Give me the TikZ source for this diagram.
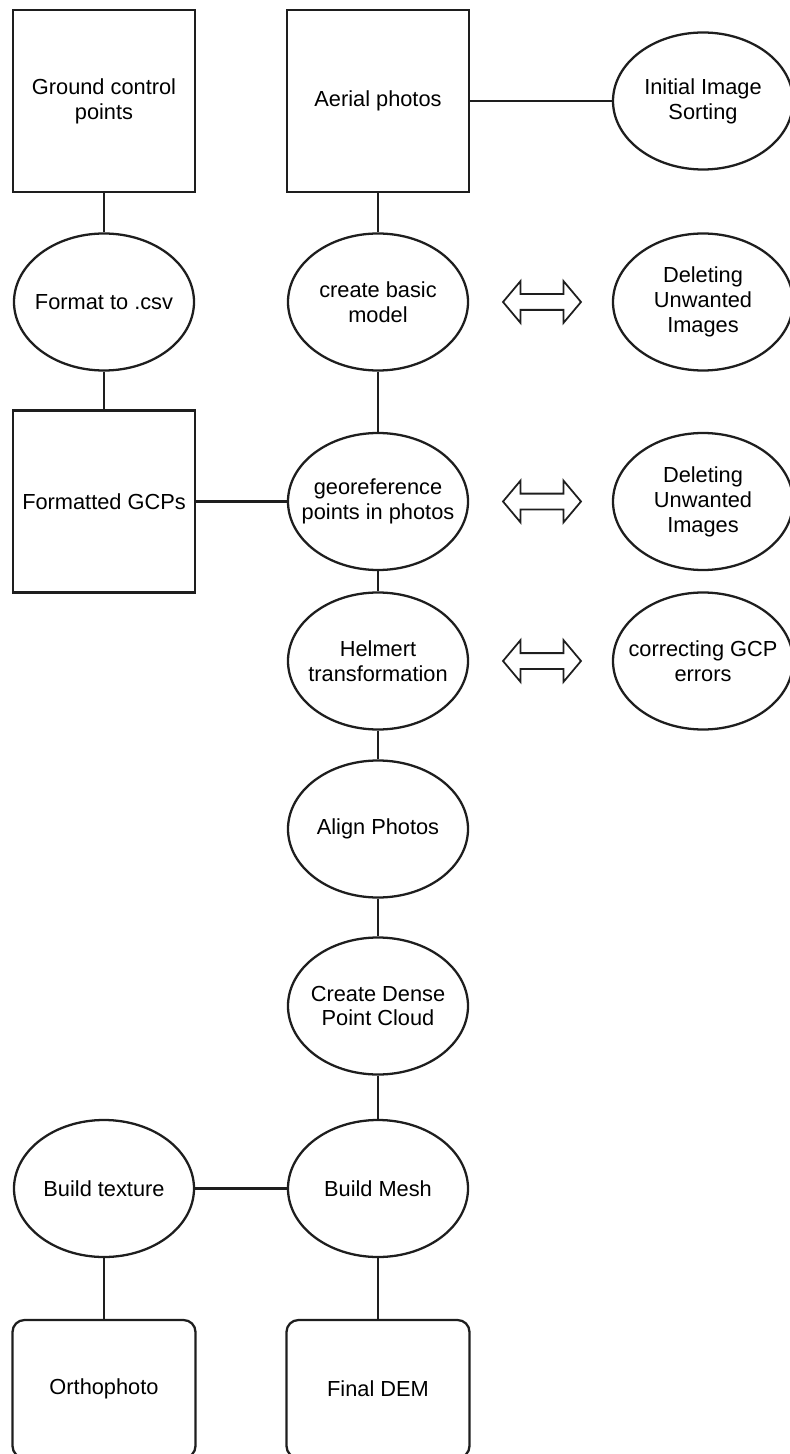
\documentclass[tikz,border=0pt]{standalone}
\usepackage{fontspec}
\setmainfont{Liberation Sans}
\usepackage{xcolor}
\usepackage{tikz}
\usetikzlibrary{shapes.geometric, shapes.arrows, positioning}
\definecolor{lineGrey}{RGB}{30,30,30}

\begin{document}
\begin{tikzpicture}[font=\fontsize{12.4}{14.2}\selectfont, line width=1.3pt,
  box/.style={draw=lineGrey, minimum width=3.64cm, minimum height=3.64cm, align=center, inner sep=0pt},
  endbox/.style={draw=lineGrey, rounded corners=0.24cm, minimum width=3.66cm, minimum height=2.76cm, align=center, inner sep=0pt},
  oval/.style={ellipse, draw=lineGrey, minimum width=3.6cm, minimum height=2.74cm, align=center, inner xsep=-0.6cm, inner ysep=0pt},
  swap/.style={double arrow, draw=lineGrey, line width=1pt, double arrow head extend=0.26cm, double arrow tip angle=100, minimum height=1.56cm, inner sep=0.14cm},
  link/.style={draw=lineGrey}]
\clip (0,0) rectangle (15.8,-29.08);

% Top row
\node[box] (gcp) at (2.08,-2.02) {Ground control\\points};
\node[box] (aerial) at (7.56,-2.02) {Aerial photos};
\node[oval] (sorting) at (14.06,-2.02) {Initial Image\\Sorting};

% Left branch
\node[oval] (csv) at (2.08,-6.04) {Format to .csv};
\node[box] (fmtgcp) at (2.08,-10.03) {Formatted GCPs};

% Main column
\node[oval] (basic) at (7.56,-6.04) {create basic\\model};
\node[oval] (georef) at (7.56,-10.03) {georeference\\points in photos};
\node[oval] (helmert) at (7.56,-13.22) {Helmert\\transformation};
\node[oval] (align) at (7.56,-16.58) {Align Photos};
\node[oval] (dense) at (7.56,-20.12) {Create Dense\\Point Cloud};
\node[oval] (mesh) at (7.56,-23.77) {Build Mesh};
\node[endbox] (dem) at (7.56,-27.78) {Final DEM};

% Texture branch
\node[oval] (texture) at (2.08,-23.77) {Build texture};
\node[endbox] (ortho) at (2.08,-27.78) {Orthophoto};

% Side loops
\node[oval] (delA) at (14.06,-6.04) {Deleting\\Unwanted\\Images};
\node[oval] (delB) at (14.06,-10.03) {Deleting\\Unwanted\\Images};
\node[oval] (gcperr) at (14.06,-13.22) {correcting GCP\\errors};
\node[swap] (swapA) at (10.84,-6.04) {};
\node[swap] (swapB) at (10.84,-10.03) {};
\node[swap] (swapC) at (10.84,-13.22) {};

% Links
\draw[link] (gcp) -- (csv);
\draw[link] (csv) -- (fmtgcp);
\draw[link] (fmtgcp) -- (georef);
\draw[link] (aerial) -- (sorting);
\draw[link] (aerial) -- (basic);
\draw[link] (basic) -- (georef);
\draw[link] (georef) -- (helmert);
\draw[link] (helmert) -- (align);
\draw[link] (align) -- (dense);
\draw[link] (dense) -- (mesh);
\draw[link] (mesh) -- (dem);
\draw[link] (texture) -- (mesh);
\draw[link] (texture) -- (ortho);
\end{tikzpicture}
\end{document}
